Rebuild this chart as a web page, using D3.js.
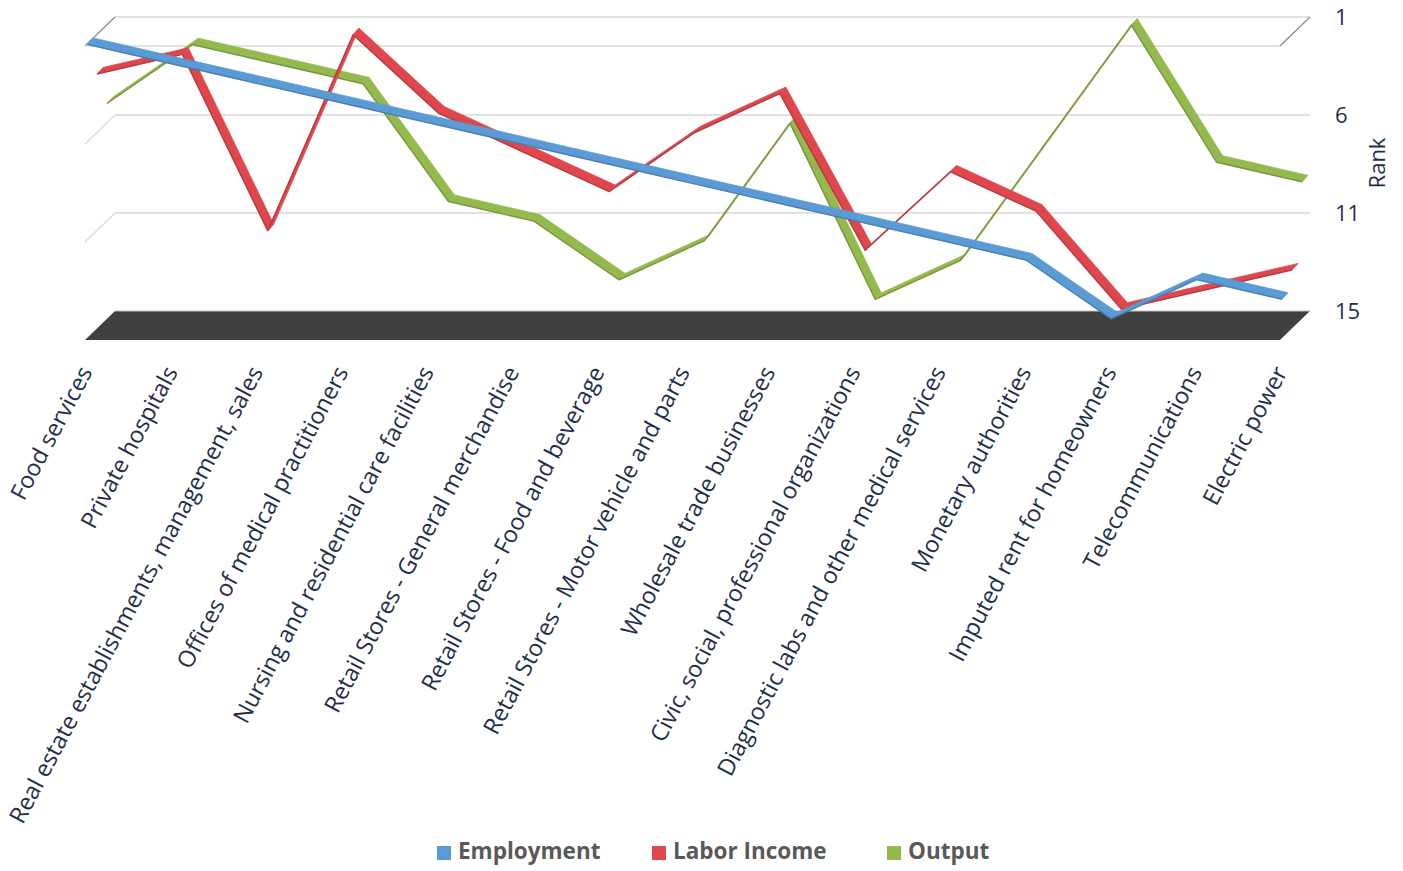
<!DOCTYPE html>
<html>
<head>
<meta charset="utf-8">
<script src="https://cdn.jsdelivr.net/npm/d3@7"></script>
<style>
  html, body { margin: 0; padding: 0; background: #ffffff; }
  svg { display: block; }
</style>
</head>
<body>
<svg id="chart" width="1403" height="871"></svg>
<script>
const categories = [
  "Food services",
  "Private hospitals",
  "Real estate establishments, management, sales",
  "Offices of medical practitioners",
  "Nursing and residential care facilities",
  "Retail Stores - General merchandise",
  "Retail Stores - Food and beverage",
  "Retail Stores - Motor vehicle and parts",
  "Wholesale trade businesses",
  "Civic, social, professional organizations",
  "Diagnostic labs and other medical services",
  "Monetary authorities",
  "Imputed rent for homeowners",
  "Telecommunications",
  "Electric power"
];
const seriesNames = ["Employment", "Labor Income", "Output"];
const employment  = [1, 2, 3, 4, 5, 6, 7, 8, 9, 10, 11, 12, 15, 13, 14];
const laborIncome = [3, 2, 11, 1, 5, 7, 9, 6, 4, 12, 8, 10, 15, 14, 13];
const output      = [5, 2, 3, 4, 10, 11, 14, 12, 6, 15, 13, 7, 1, 8, 9];
const rankTicks      = [1, 6, 11, 16];
const rankTickLabels = ["1", "6", "11", "15"];
const axisTitle = "Rank";

const colors = ["#5b9bd5", "#e0474c", "#94b94c"];

const svg = d3.select("#chart");

// oblique 3D layout
const DX = 30, DY = -29;               // full depth offset of the plot box
const x = d3.scalePoint().domain(categories).range([85, 1280]);
const y = d3.scaleLinear().domain([1, 16]).range([46, 340]);   // front plane
const xL = x.range()[0], xR = x.range()[1];

// walls / gridlines
const grid = svg.append("g");
rankTicks.slice(0, 3).forEach((t, k) => {
  const yf = y(t);
  grid.append("line").attr("x1", xL + DX).attr("x2", xR + DX)
    .attr("y1", yf + DY).attr("y2", yf + DY)
    .attr("stroke", "#d9d9d9").attr("stroke-width", 1.5);
  grid.append("line").attr("x1", xL).attr("x2", xL + DX)
    .attr("y1", yf).attr("y2", yf + DY)
    .attr("stroke", k === 0 ? "#8c8c8c" : "#d9d9d9").attr("stroke-width", 1.3);
});
// top front edge & right edge of the box
grid.append("line").attr("x1", xL).attr("x2", xR)
  .attr("y1", y(1)).attr("y2", y(1))
  .attr("stroke", "#d9d9d9").attr("stroke-width", 1.5);
grid.append("line").attr("x1", xR).attr("x2", xR + DX)
  .attr("y1", y(1)).attr("y2", y(1) + DY)
  .attr("stroke", "#8c8c8c").attr("stroke-width", 1.3);

// floor
const yFloor = y(16);
svg.append("path")
  .attr("d", d3.line()([[xL, yFloor], [xR, yFloor], [xR + DX, yFloor + DY], [xL + DX, yFloor + DY]]) + "Z")
  .attr("fill", "#404040");
svg.append("line").attr("x1", xL + DX).attr("x2", xR + DX)
  .attr("y1", yFloor + DY).attr("y2", yFloor + DY)
  .attr("stroke", "#bfbfbf").attr("stroke-width", 1);

// ribbons
const seriesData = [employment, laborIncome, output];
const depthFrac = [1 / 6, 1 / 2, 5 / 6];
const RV = [6, -6.5];   // ribbon thickness vector
const ribbons = svg.append("g");
[2, 1, 0].forEach(s => {
  const f = depthFrac[s];
  const pts = seriesData[s].map((v, i) => [x(categories[i]) + DX * f, y(v) + DY * f]);
  const base = d3.color(colors[s]);
  const dark = base.darker(0.8);
  const g = ribbons.append("g");
  for (let i = 0; i < pts.length - 1; i++) {
    const a = pts[i], b = pts[i + 1];
    const poly = [
      [a[0] - RV[0] / 2, a[1] - RV[1] / 2],
      [b[0] - RV[0] / 2, b[1] - RV[1] / 2],
      [b[0] + RV[0] / 2, b[1] + RV[1] / 2],
      [a[0] + RV[0] / 2, a[1] + RV[1] / 2]
    ];
    g.append("path").attr("d", d3.line()(poly) + "Z")
      .attr("fill", base.formatHex())
      .attr("stroke", base.formatHex()).attr("stroke-width", 0.8)
      .attr("stroke-linejoin", "round");
  }
  g.append("path")
    .attr("d", d3.line()(pts.map(p => [p[0] - RV[0] / 2, p[1] - RV[1] / 2])))
    .attr("fill", "none").attr("stroke", dark.formatHex()).attr("stroke-width", 1.4)
    .attr("stroke-linejoin", "round").attr("opacity", 0.8);
});

// right axis labels
const yAxisG = svg.append("g");
rankTicks.forEach((t, k) => {
  yAxisG.append("text")
    .attr("x", 1335).attr("y", y(t) + DY + 2)
    .attr("dominant-baseline", "middle")
    .attr("font-family", "'Open Sans', 'Noto Sans', sans-serif")
    .attr("font-size", 22).attr("fill", "#1f2f4f")
    .text(rankTickLabels[k]);
});
svg.append("text")
  .attr("transform", "translate(1385,163) rotate(-90)")
  .attr("text-anchor", "middle")
  .attr("font-family", "'Open Sans', 'Noto Sans', sans-serif")
  .attr("font-size", 22).attr("fill", "#1f2f4f")
  .text(axisTitle);

// category labels
const xLabels = svg.append("g");
categories.forEach(c => {
  xLabels.append("text")
    .attr("transform", `translate(${x(c) + 8},372) rotate(-62)`)
    .attr("text-anchor", "end")
    .attr("font-family", "'Open Sans', 'Noto Sans', sans-serif")
    .attr("font-size", 23.3).attr("fill", "#1f2f4f")
    .text(c);
});

// legend
const legendX = [437, 652, 887];
const legend = svg.append("g");
seriesNames.forEach((n, i) => {
  legend.append("rect").attr("x", legendX[i]).attr("y", 846)
    .attr("width", 14).attr("height", 14).attr("fill", colors[i]);
  legend.append("text").attr("x", legendX[i] + 21).attr("y", 853)
    .attr("dominant-baseline", "middle")
    .attr("font-family", "'Open Sans', 'Noto Sans', sans-serif")
    .attr("font-weight", "bold")
    .attr("font-size", 22.5).attr("fill", "#595959")
    .text(n);
});
</script>
</body>
</html>
